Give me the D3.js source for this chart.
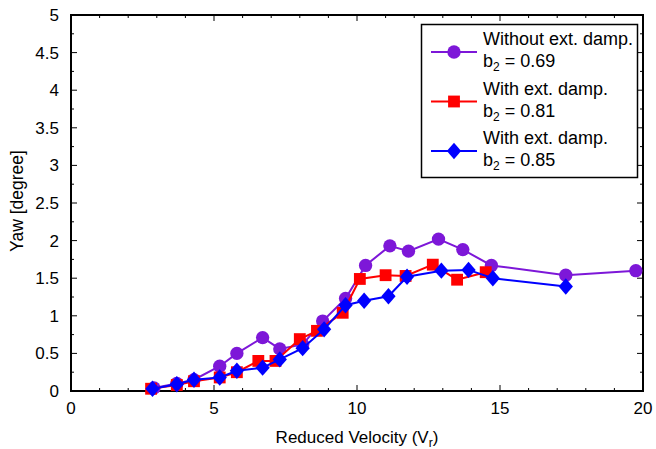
<!DOCTYPE html>
<html>
<head>
<meta charset="utf-8">
<script src="https://d3js.org/d3.v7.min.js"></script>
<style>
  body { margin: 0; background: #fff; }
  text { font-family: Arial, "Liberation Sans", sans-serif; }
</style>
</head>
<body>
<div id="chart"></div>
<script>
// Data
const purpleX = [2.9, 3.7, 4.3, 5.2, 5.8, 6.7, 7.3, 8.1, 8.8, 9.6, 10.3, 11.15, 11.8, 12.85, 13.7, 14.7, 17.3, 19.75];
const purpleY = [0.04, 0.10, 0.15, 0.33, 0.50, 0.71, 0.56, 0.62, 0.93, 1.23, 1.67, 1.93, 1.86, 2.02, 1.88, 1.67, 1.54, 1.60];
const redX = [2.8, 3.7, 4.3, 5.2, 5.8, 6.55, 7.15, 8.0, 8.6, 9.5, 10.1, 11.0, 11.7, 12.65, 13.5, 14.5];
const redY = [0.03, 0.08, 0.13, 0.18, 0.25, 0.40, 0.40, 0.69, 0.80, 1.04, 1.49, 1.54, 1.53, 1.68, 1.48, 1.58];
const blueX = [2.85, 3.7, 4.3, 5.2, 5.8, 6.7, 7.3, 8.1, 8.85, 9.6, 10.25, 11.1, 11.75, 12.95, 13.9, 14.75, 17.3];
const blueY = [0.03, 0.09, 0.15, 0.18, 0.27, 0.31, 0.42, 0.57, 0.82, 1.14, 1.20, 1.26, 1.52, 1.60, 1.61, 1.50, 1.39];
const xTicks = [0, 5, 10, 15, 20];
const yTicks = [0, 0.5, 1, 1.5, 2, 2.5, 3, 3.5, 4, 4.5, 5];
const legendTitles = ["Without ext. damp.", "With ext. damp.", "With ext. damp."];
const legendB2 = ["0.69", "0.81", "0.85"];

const W = 656, H = 449;
const margin = { top: 15, right: 13, bottom: 58, left: 71 };
const width = W - margin.left - margin.right;
const height = H - margin.top - margin.bottom;

const svg = d3.select("#chart").append("svg")
    .attr("width", W).attr("height", H);
const g = svg.append("g").attr("transform", `translate(${margin.left},${margin.top})`);

const x = d3.scaleLinear().domain([0, 20]).range([0, width]);
const y = d3.scaleLinear().domain([0, 5]).range([height, 0]);

// Minor + major inward ticks on all four sides
const xMinor = d3.range(0, 20.01, 1);
const yMinor = d3.range(0, 5.01, 0.25);
const tickG = g.append("g").attr("stroke", "#000").attr("stroke-width", 1);
xMinor.forEach(v => {
    const len = (v % 5 === 0) ? 6 : 3;
    tickG.append("line").attr("x1", x(v)).attr("x2", x(v)).attr("y1", height).attr("y2", height - len);
    tickG.append("line").attr("x1", x(v)).attr("x2", x(v)).attr("y1", 0).attr("y2", len);
});
yMinor.forEach(v => {
    const len = (Math.abs(v * 2 - Math.round(v * 2)) < 1e-6) ? 6 : 3;
    tickG.append("line").attr("x1", 0).attr("x2", len).attr("y1", y(v)).attr("y2", y(v));
    tickG.append("line").attr("x1", width).attr("x2", width - len).attr("y1", y(v)).attr("y2", y(v));
});

// Frame
g.append("rect").attr("x", 0).attr("y", 0).attr("width", width).attr("height", height)
    .attr("fill", "none").attr("stroke", "#000").attr("stroke-width", 2);

// Tick labels
g.append("g").selectAll("text").data(xTicks).enter().append("text")
    .attr("x", d => x(d)).attr("y", height + 23)
    .attr("text-anchor", "middle").attr("font-size", 17).text(d => d);
g.append("g").selectAll("text").data(yTicks).enter().append("text")
    .attr("x", -12).attr("y", d => y(d) + 6)
    .attr("text-anchor", "end").attr("font-size", 17).text(d => d);

// Axis titles
const xt = svg.append("text").attr("x", margin.left + width / 2).attr("y", 443)
    .attr("text-anchor", "middle").attr("font-size", 17);
xt.append("tspan").text("Reduced Velocity (V");
xt.append("tspan").attr("font-size", 12).attr("dy", 4).text("r");
xt.append("tspan").attr("dy", -4).text(")");
svg.append("text").attr("transform", `translate(23,${margin.top + height / 2 - 2}) rotate(-90)`)
    .attr("text-anchor", "middle").attr("font-size", 17.5).text("Yaw [degree]");

// Wide diamond marker like the reference
const wideDiamond = {
    draw(ctx, size) {
        const hw = Math.sqrt(size) * 0.68, hh = Math.sqrt(size) * 0.78;
        ctx.moveTo(0, -hh); ctx.lineTo(hw, 0); ctx.lineTo(0, hh); ctx.lineTo(-hw, 0); ctx.closePath();
    }
};

// Series
const series = [
    { xs: purpleX, ys: purpleY, color: "#7d17d8", shape: d3.symbolCircle, size: 140 },
    { xs: redX, ys: redY, color: "#ff0000", shape: d3.symbolSquare, size: 140 },
    { xs: blueX, ys: blueY, color: "#0000ff", shape: wideDiamond, size: 110 }
];
const line = d3.line().x(d => x(d[0])).y(d => y(d[1]));

series.forEach(s => {
    const pts = s.xs.map((v, i) => [v, s.ys[i]]);
    g.append("path").attr("d", line(pts)).attr("fill", "none")
        .attr("stroke", s.color).attr("stroke-width", 2);
    g.selectAll(null).data(pts).enter().append("path")
        .attr("transform", d => `translate(${x(d[0])},${y(d[1])})`)
        .attr("d", d3.symbol().type(s.shape).size(s.size))
        .attr("fill", s.color);
});

// Legend
const lg = svg.append("g");
lg.append("rect").attr("x", 421.5).attr("y", 24.5).attr("width", 216).attr("height", 153)
    .attr("fill", "#fff").attr("stroke", "#000").attr("stroke-width", 1.5);
series.forEach((s, i) => {
    const cy = 52 + i * 49.5;
    lg.append("line").attr("x1", 431).attr("x2", 477).attr("y1", cy).attr("y2", cy)
        .attr("stroke", s.color).attr("stroke-width", 2);
    lg.append("path").attr("transform", `translate(454,${cy})`)
        .attr("d", d3.symbol().type(s.shape).size(s.size)).attr("fill", s.color);
    lg.append("text").attr("x", 483).attr("y", cy - 7).attr("font-size", 18).text(legendTitles[i]);
    const t = lg.append("text").attr("x", 483).attr("y", cy + 15).attr("font-size", 18);
    t.append("tspan").text("b");
    t.append("tspan").attr("font-size", 12).attr("dy", 4).text("2");
    t.append("tspan").attr("dy", -4).text(" = " + legendB2[i]);
});
</script>
</body>
</html>
